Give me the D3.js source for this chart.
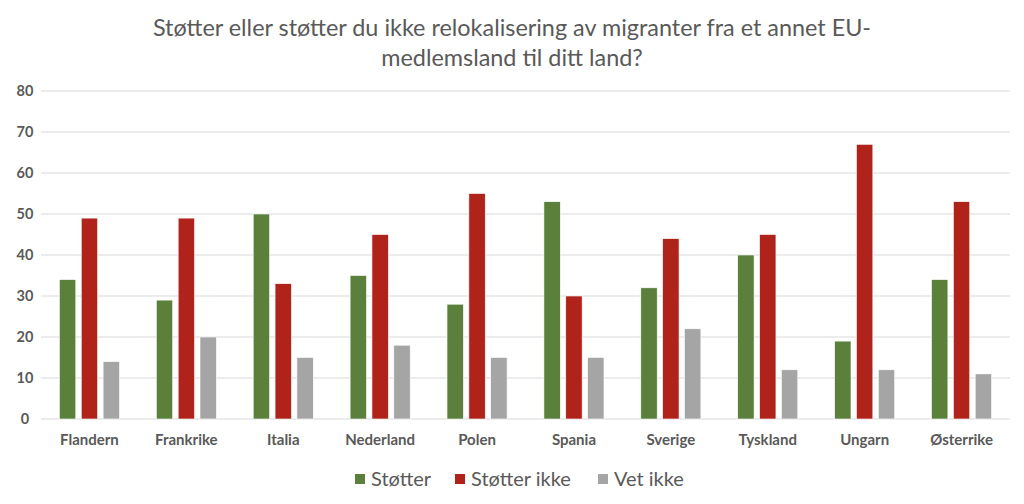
<!DOCTYPE html>
<html><head><meta charset="utf-8">
<script src="https://cdn.jsdelivr.net/npm/d3@7"></script>
<style>body{margin:0;background:#fff;} svg{display:block;font-family:Lato,"Open Sans",sans-serif;}</style>
</head><body>
<svg id="c" width="1024" height="504"></svg>
<script>
const categories = ["Flandern","Frankrike","Italia","Nederland","Polen","Spania","Sverige","Tyskland","Ungarn","Østerrike"];
const seriesNames = ["Støtter","Støtter ikke","Vet ikke"];
const stotter = [34,29,50,35,28,53,32,40,19,34];
const stotterIkke = [49,49,33,45,55,30,44,45,67,53];
const vetIkke = [14,20,15,18,15,15,22,12,12,11];
const yTicks = [0,10,20,30,40,50,60,70,80];
const titleLines = ["Støtter eller støtter du ikke relokalisering av migranter fra et annet EU-","medlemsland til ditt land?"];

(function(){
const colors = ["#5B803C","#B0231B","#A5A5A5"];
const values = [stotter, stotterIkke, vetIkke];

const svg = d3.select("#c");
const pLeft = 41, pRight = 1010, pTop = 91, pBottom = 419;

const x0 = d3.scaleBand().domain(categories).range([pLeft,pRight]).paddingInner(0.38).paddingOuter(0.19);
const x1 = d3.scaleBand().domain(seriesNames).range([0,x0.bandwidth()]).paddingInner(0.25);
const y = d3.scaleLinear().domain([0,80]).range([pBottom,pTop]);

svg.append("g").selectAll("line").data(yTicks).join("line")
  .attr("x1",pLeft).attr("x2",pRight)
  .attr("y1",d=>y(d)).attr("y2",d=>y(d))
  .attr("stroke","#D9D9D9").attr("stroke-width",1);

svg.append("g").selectAll("text").data(yTicks).join("text")
  .attr("x",25).attr("y",d=>y(d)).attr("dy","0.35em")
  .attr("text-anchor","middle").attr("font-size",14.5).attr("font-weight","bold")
  .attr("fill","#595959").text(d=>d);

const groups = svg.append("g").selectAll("g").data(categories).join("g")
  .attr("transform",d=>`translate(${x0(d)},0)`);
groups.selectAll("rect").data((d,i)=>seriesNames.map((s,j)=>({s,v:values[j][i],j})))
  .join("rect")
  .attr("x",d=>x1(d.s)).attr("width",x1.bandwidth())
  .attr("y",d=>y(d.v)).attr("height",d=>y(0)-y(d.v))
  .attr("fill",d=>colors[d.j]).attr("stroke","#ffffff").attr("stroke-width",0.6);

svg.append("g").selectAll("text").data(categories).join("text")
  .attr("x",d=>x0(d)+x0.bandwidth()/2).attr("y",440).attr("dy","0.35em")
  .attr("text-anchor","middle").attr("font-size",15).attr("font-weight","bold")
  .attr("fill","#595959").text(d=>d);

svg.append("g").selectAll("text").data(titleLines).join("text")
  .attr("x",512).attr("y",(d,i)=>28+i*30).attr("dy","0.35em")
  .attr("text-anchor","middle").attr("font-size",23.4)
  .attr("fill","#595959").text(d=>d);

const legendX = [355,455,598];
const lg = svg.append("g").selectAll("g").data(seriesNames).join("g")
  .attr("transform",(d,i)=>`translate(${legendX[i]},479)`);
lg.append("rect").attr("x",0).attr("y",-5).attr("width",10).attr("height",10)
  .attr("fill",(d,i)=>colors[i]);
lg.append("text").attr("x",16).attr("y",0).attr("dy","0.35em")
  .attr("font-size",20).attr("fill","#595959").text(d=>d);
})();
</script>
</body></html>
